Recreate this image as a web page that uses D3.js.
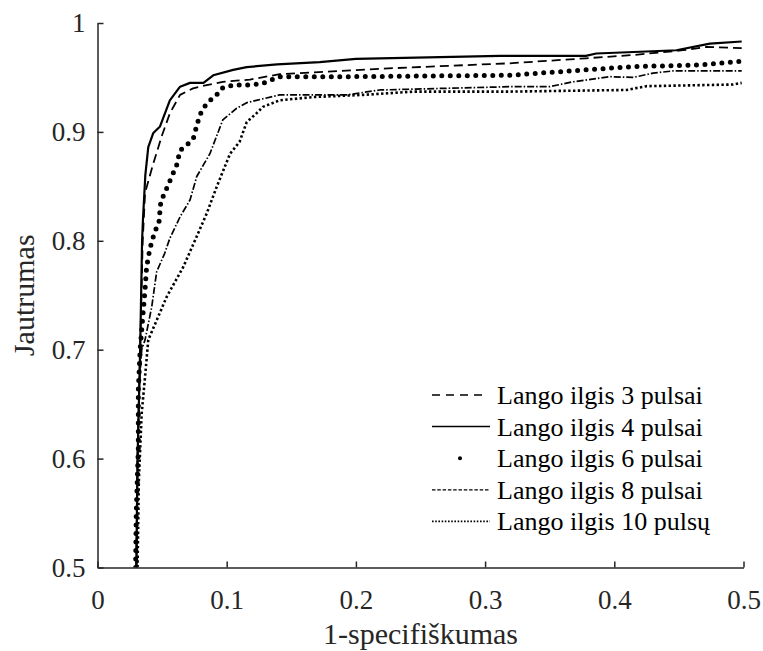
<!DOCTYPE html>
<html>
<head>
<meta charset="utf-8">
<script src="https://cdn.jsdelivr.net/npm/d3@7"></script>
<style>
  body { margin: 0; background: #fff; }
  svg text { font-family: "Liberation Serif", "DejaVu Serif", Tinos, "Times New Roman", Times, serif; }
</style>
</head>
<body>
<div id="chart"></div>
<script>
// ROC curves: [1-specificity, sensitivity]
const pulsai3 = [[0.030,0.5],[0.031,0.6],[0.033,0.7],[0.035,0.8],[0.0368,0.844],[0.0432,0.871],[0.0497,0.896],[0.056,0.917],[0.0639,0.934],[0.074,0.940],[0.0845,0.943],[0.097,0.946],[0.118,0.948],[0.141,0.953],[0.2186,0.958],[0.319,0.963],[0.378,0.9676],[0.4147,0.9706],[0.453,0.975],[0.4715,0.978],[0.4986,0.977]];
const pulsai4 = [[0.030,0.5],[0.031,0.6],[0.033,0.7],[0.0345,0.8],[0.0352,0.82],[0.037,0.86],[0.0393,0.886],[0.0432,0.899],[0.0484,0.905],[0.056,0.929],[0.0639,0.9415],[0.0716,0.945],[0.082,0.945],[0.0896,0.952],[0.105,0.957],[0.1155,0.9595],[0.139,0.962],[0.172,0.964],[0.2,0.967],[0.3115,0.9698],[0.378,0.9698],[0.386,0.972],[0.42,0.9736],[0.448,0.975],[0.474,0.981],[0.4986,0.983]];
const pulsai6 = [[0.0295,0.5],[0.030,0.55],[0.0316,0.61],[0.0316,0.6355],[0.0316,0.663],[0.033,0.70],[0.035,0.73],[0.0368,0.755],[0.038,0.776],[0.0406,0.793],[0.044,0.807],[0.0476,0.8175],[0.049,0.836],[0.0535,0.848],[0.0613,0.8696],[0.0639,0.883],[0.074,0.893],[0.0773,0.908],[0.0806,0.9195],[0.0858,0.928],[0.091,0.932],[0.096,0.940],[0.105,0.943],[0.118,0.943],[0.128,0.9446],[0.141,0.9507],[0.193,0.9507],[0.319,0.952],[0.376,0.9568],[0.4147,0.960],[0.466,0.9614],[0.4986,0.9649]];
const pulsai8 = [[0.0303,0.5],[0.031,0.6],[0.0325,0.67],[0.0342,0.700],[0.0368,0.709],[0.042,0.7395],[0.0458,0.7716],[0.052,0.7885],[0.056,0.8023],[0.0639,0.822],[0.0716,0.8375],[0.0768,0.859],[0.087,0.880],[0.097,0.911],[0.1077,0.9217],[0.1155,0.9268],[0.123,0.929],[0.141,0.934],[0.193,0.934],[0.2186,0.9385],[0.319,0.9415],[0.350,0.9415],[0.368,0.946],[0.3967,0.9507],[0.4147,0.950],[0.43,0.954],[0.4455,0.956],[0.4986,0.956]];
const pulsu10 = [[0.0310,0.5],[0.032,0.58],[0.0342,0.6416],[0.0368,0.675],[0.0393,0.709],[0.0458,0.727],[0.0536,0.7487],[0.0664,0.776],[0.0768,0.804],[0.0845,0.825],[0.0923,0.8497],[0.1026,0.880],[0.110,0.891],[0.1155,0.909],[0.123,0.917],[0.128,0.923],[0.141,0.929],[0.167,0.932],[0.2057,0.934],[0.2444,0.937],[0.319,0.937],[0.4096,0.9385],[0.425,0.942],[0.492,0.9435],[0.4986,0.945]];

const seriesNames = ["Lango ilgis 3 pulsai", "Lango ilgis 4 pulsai", "Lango ilgis 6 pulsai", "Lango ilgis 8 pulsai", "Lango ilgis 10 pulsų"];
const seriesData = [pulsai3, pulsai4, pulsai6, pulsai8, pulsu10];
const xTicks = [0, 0.1, 0.2, 0.3, 0.4, 0.5];
const yTicks = [0.5, 0.6, 0.7, 0.8, 0.9, 1];
const xTickLabels = ["0", "0.1", "0.2", "0.3", "0.4", "0.5"];
const yTickLabels = ["0.5", "0.6", "0.7", "0.8", "0.9", "1"];

const width = 763, height = 651;
const plotLeft = 97.5, plotRight = 743.5, plotTop = 23, plotBottom = 567.5;
const ink = "#262626";
const serif = '"Liberation Serif", "DejaVu Serif", Tinos, "Times New Roman", Times, serif';

// line style per series (MATLAB style: -- , - , . , -. , :)
const styles = [
    { w: 1.8, dash: "9,5", cap: "butt" },
    { w: 2.2, dash: null, cap: "butt" },
    { w: 5, dash: "0,8.5", cap: "round" },
    { w: 1.7, dash: "7,2,1.5,2", cap: "butt" },
    { w: 2.6, dash: "2.4,2.4", cap: "butt" }
];

const svg = d3.select("#chart").append("svg")
    .attr("width", width)
    .attr("height", height)
    .attr("font-family", serif);

const x = d3.scaleLinear().domain([0, 0.5]).range([plotLeft, plotRight]);
const y = d3.scaleLinear().domain([0.5, 1]).range([plotBottom, plotTop]);

svg.append("clipPath").attr("id", "plotclip")
    .append("rect")
    .attr("x", plotLeft).attr("y", plotTop - 5)
    .attr("width", plotRight - plotLeft + 5).attr("height", plotBottom - plotTop + 5);

const line = d3.line().x(d => x(d[0])).y(d => y(d[1]));

const plot = svg.append("g").attr("clip-path", "url(#plotclip)");
seriesData.forEach((data, i) => {
    const s = styles[i];
    plot.append("path")
        .datum(data)
        .attr("fill", "none")
        .attr("stroke", "#000")
        .attr("stroke-width", s.w)
        .attr("stroke-linecap", s.cap)
        .attr("stroke-linejoin", "round")
        .attr("stroke-dasharray", s.dash)
        .attr("d", line);
});

// axes, ticks pointing inward
const xAxis = svg.append("g")
    .attr("transform", "translate(0," + plotBottom + ")")
    .call(d3.axisBottom(x)
        .tickValues(xTicks)
        .tickFormat((d, i) => xTickLabels[i])
        .tickSizeInner(-6)
        .tickSizeOuter(0)
        .tickPadding(22));
const yAxis = svg.append("g")
    .attr("transform", "translate(" + plotLeft + ",0)")
    .call(d3.axisLeft(y)
        .tickValues(yTicks)
        .tickFormat((d, i) => yTickLabels[i])
        .tickSizeInner(-6)
        .tickSizeOuter(0)
        .tickPadding(12));

[xAxis, yAxis].forEach(a => {
    a.attr("font-family", serif).attr("font-size", 27);
    a.select(".domain").attr("stroke", ink).attr("stroke-width", 1.5);
    a.selectAll(".tick line").attr("stroke", ink).attr("stroke-width", 1.5);
    a.selectAll(".tick text").attr("fill", ink);
});

svg.append("text")
    .attr("x", (plotLeft + plotRight) / 2)
    .attr("y", 644)
    .attr("text-anchor", "middle")
    .attr("fill", ink)
    .attr("font-size", 30)
    .text("1-specifiškumas");

svg.append("text")
    .attr("transform", "translate(34," + ((plotTop + plotBottom) / 2) + ") rotate(-90)")
    .attr("text-anchor", "middle")
    .attr("fill", ink)
    .attr("font-size", 30)
    .text("Jautrumas");

// legend
const legend = svg.append("g");
seriesNames.forEach((name, i) => {
    const by = 404 + i * 31.6;
    const g = legend.append("g");
    if (i === 2) {
        g.append("circle").attr("cx", 460).attr("cy", by - 9).attr("r", 2).attr("fill", "#000");
    } else {
        g.append("line")
            .attr("x1", 432).attr("x2", i === 0 ? 486 : 490)
            .attr("y1", by - 9).attr("y2", by - 9)
            .attr("stroke", "#000")
            .attr("stroke-width", i === 4 ? 1.8 : (i === 3 ? 1.2 : 1.5))
            .attr("stroke-dasharray", i === 0 ? "8,6" : (i === 3 ? "3.5,1.8" : (i === 4 ? "1.6,1.6" : null)));
    }
    g.append("text")
        .attr("x", 497)
        .attr("y", by)
        .attr("fill", "#000")
        .attr("font-size", 26)
        .text(name);
});
</script>
</body>
</html>
